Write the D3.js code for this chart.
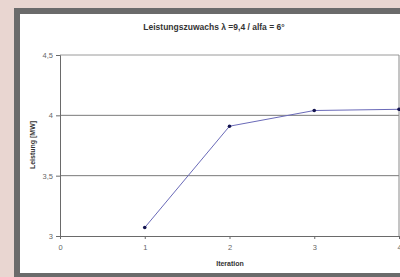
<!DOCTYPE html>
<html>
<head>
<meta charset="utf-8">
<script src="https://cdn.jsdelivr.net/npm/d3@7"></script>
<style>
  html, body { margin: 0; padding: 0; background: #e9d6d1; }
  svg { display: block; }
  text { font-family: Arial, "Liberation Sans", sans-serif; }
</style>
</head>
<body>
<div id="chart"></div>
<script>
// Leistungszuwachs chart

const iterations = [1, 2, 3, 4];
const leistung = [3.07, 3.91, 4.04, 4.05];
const yTicks = [3, 3.5, 4, 4.5];
const xTicks = [0, 1, 2, 3, 4];

const width = 400, height = 277;
const plot = { left: 60, right: 399, top: 55, bottom: 236 };

const svg = d3.select('#chart').append('svg')
    .attr('width', width)
    .attr('height', height);

// Frame
svg.append('rect')
    .attr('x', 14).attr('y', 8)
    .attr('width', width - 14).attr('height', height - 8)
    .attr('fill', '#6b6b6b');
svg.append('rect')
    .attr('x', 20).attr('y', 14)
    .attr('width', width - 20).attr('height', 259)
    .attr('fill', '#ffffff');

const x = d3.scaleLinear().domain([0, 4]).range([plot.left, plot.right]);
const y = d3.scaleLinear().domain([3, 4.5]).range([plot.bottom, plot.top]);

// Gridlines (including the top border at 4,5)
svg.append('g')
    .selectAll('line')
    .data(yTicks.filter(d => d > 3))
    .enter().append('line')
    .attr('x1', plot.left).attr('x2', plot.right)
    .attr('y1', d => y(d)).attr('y2', d => y(d))
    .attr('stroke', d => d === 4.5 ? '#9a9a9a' : '#7a7a7a')
    .attr('stroke-width', 1);

// Right border of plot
svg.append('line')
    .attr('x1', plot.right).attr('x2', plot.right)
    .attr('y1', plot.top).attr('y2', plot.bottom)
    .attr('stroke', '#8a8a8a');

// Axes
const yAxis = d3.axisLeft(y)
    .tickValues(yTicks)
    .tickSize(4)
    .tickFormat(d => String(d).replace('.', ','));
const gy = svg.append('g')
    .attr('transform', `translate(${plot.left},0)`)
    .call(yAxis);

const xAxis = d3.axisBottom(x)
    .tickValues(xTicks)
    .tickSize(3)
    .tickFormat(d3.format('d'));
const gx = svg.append('g')
    .attr('transform', `translate(0,${plot.bottom})`)
    .call(xAxis);

[gy, gx].forEach(g => {
    g.select('.domain').attr('stroke', '#6a6a6a');
    g.selectAll('.tick line').attr('stroke', '#6a6a6a');
    g.selectAll('.tick text')
        .attr('fill', '#666')
        .style('font-size', '7.5px')
        .style('font-family', 'Arial, "Liberation Sans", sans-serif');
});
gx.selectAll('.tick text').attr('dy', '1.1em');

// Line
const line = d3.line()
    .x((d, i) => x(iterations[i]))
    .y(d => y(d));

svg.append('path')
    .datum(leistung)
    .attr('d', line)
    .attr('fill', 'none')
    .attr('stroke', '#6a6ab8')
    .attr('stroke-width', 1);

svg.append('g')
    .selectAll('circle')
    .data(leistung)
    .enter().append('circle')
    .attr('cx', (d, i) => x(iterations[i]))
    .attr('cy', d => y(d))
    .attr('r', 1.8)
    .attr('fill', '#141450');

// Title
svg.append('text')
    .attr('x', 214)
    .attr('y', 30)
    .attr('text-anchor', 'middle')
    .style('font-size', '8.5px')
    .style('font-weight', 'bold')
    .attr('fill', '#333')
    .text('Leistungszuwachs \u03bb =9,4 / alfa = 6\u00b0');

// Axis labels
svg.append('text')
    .attr('x', 230)
    .attr('y', 266)
    .attr('text-anchor', 'middle')
    .style('font-size', '7px')
    .style('font-weight', 'bold')
    .attr('fill', '#333')
    .text('Iteration');

svg.append('text')
    .attr('transform', 'translate(35,145) rotate(-90)')
    .attr('text-anchor', 'middle')
    .style('font-size', '7px')
    .style('font-weight', 'bold')
    .attr('fill', '#333')
    .text('Leistung [MW]');
</script>
</body>
</html>
